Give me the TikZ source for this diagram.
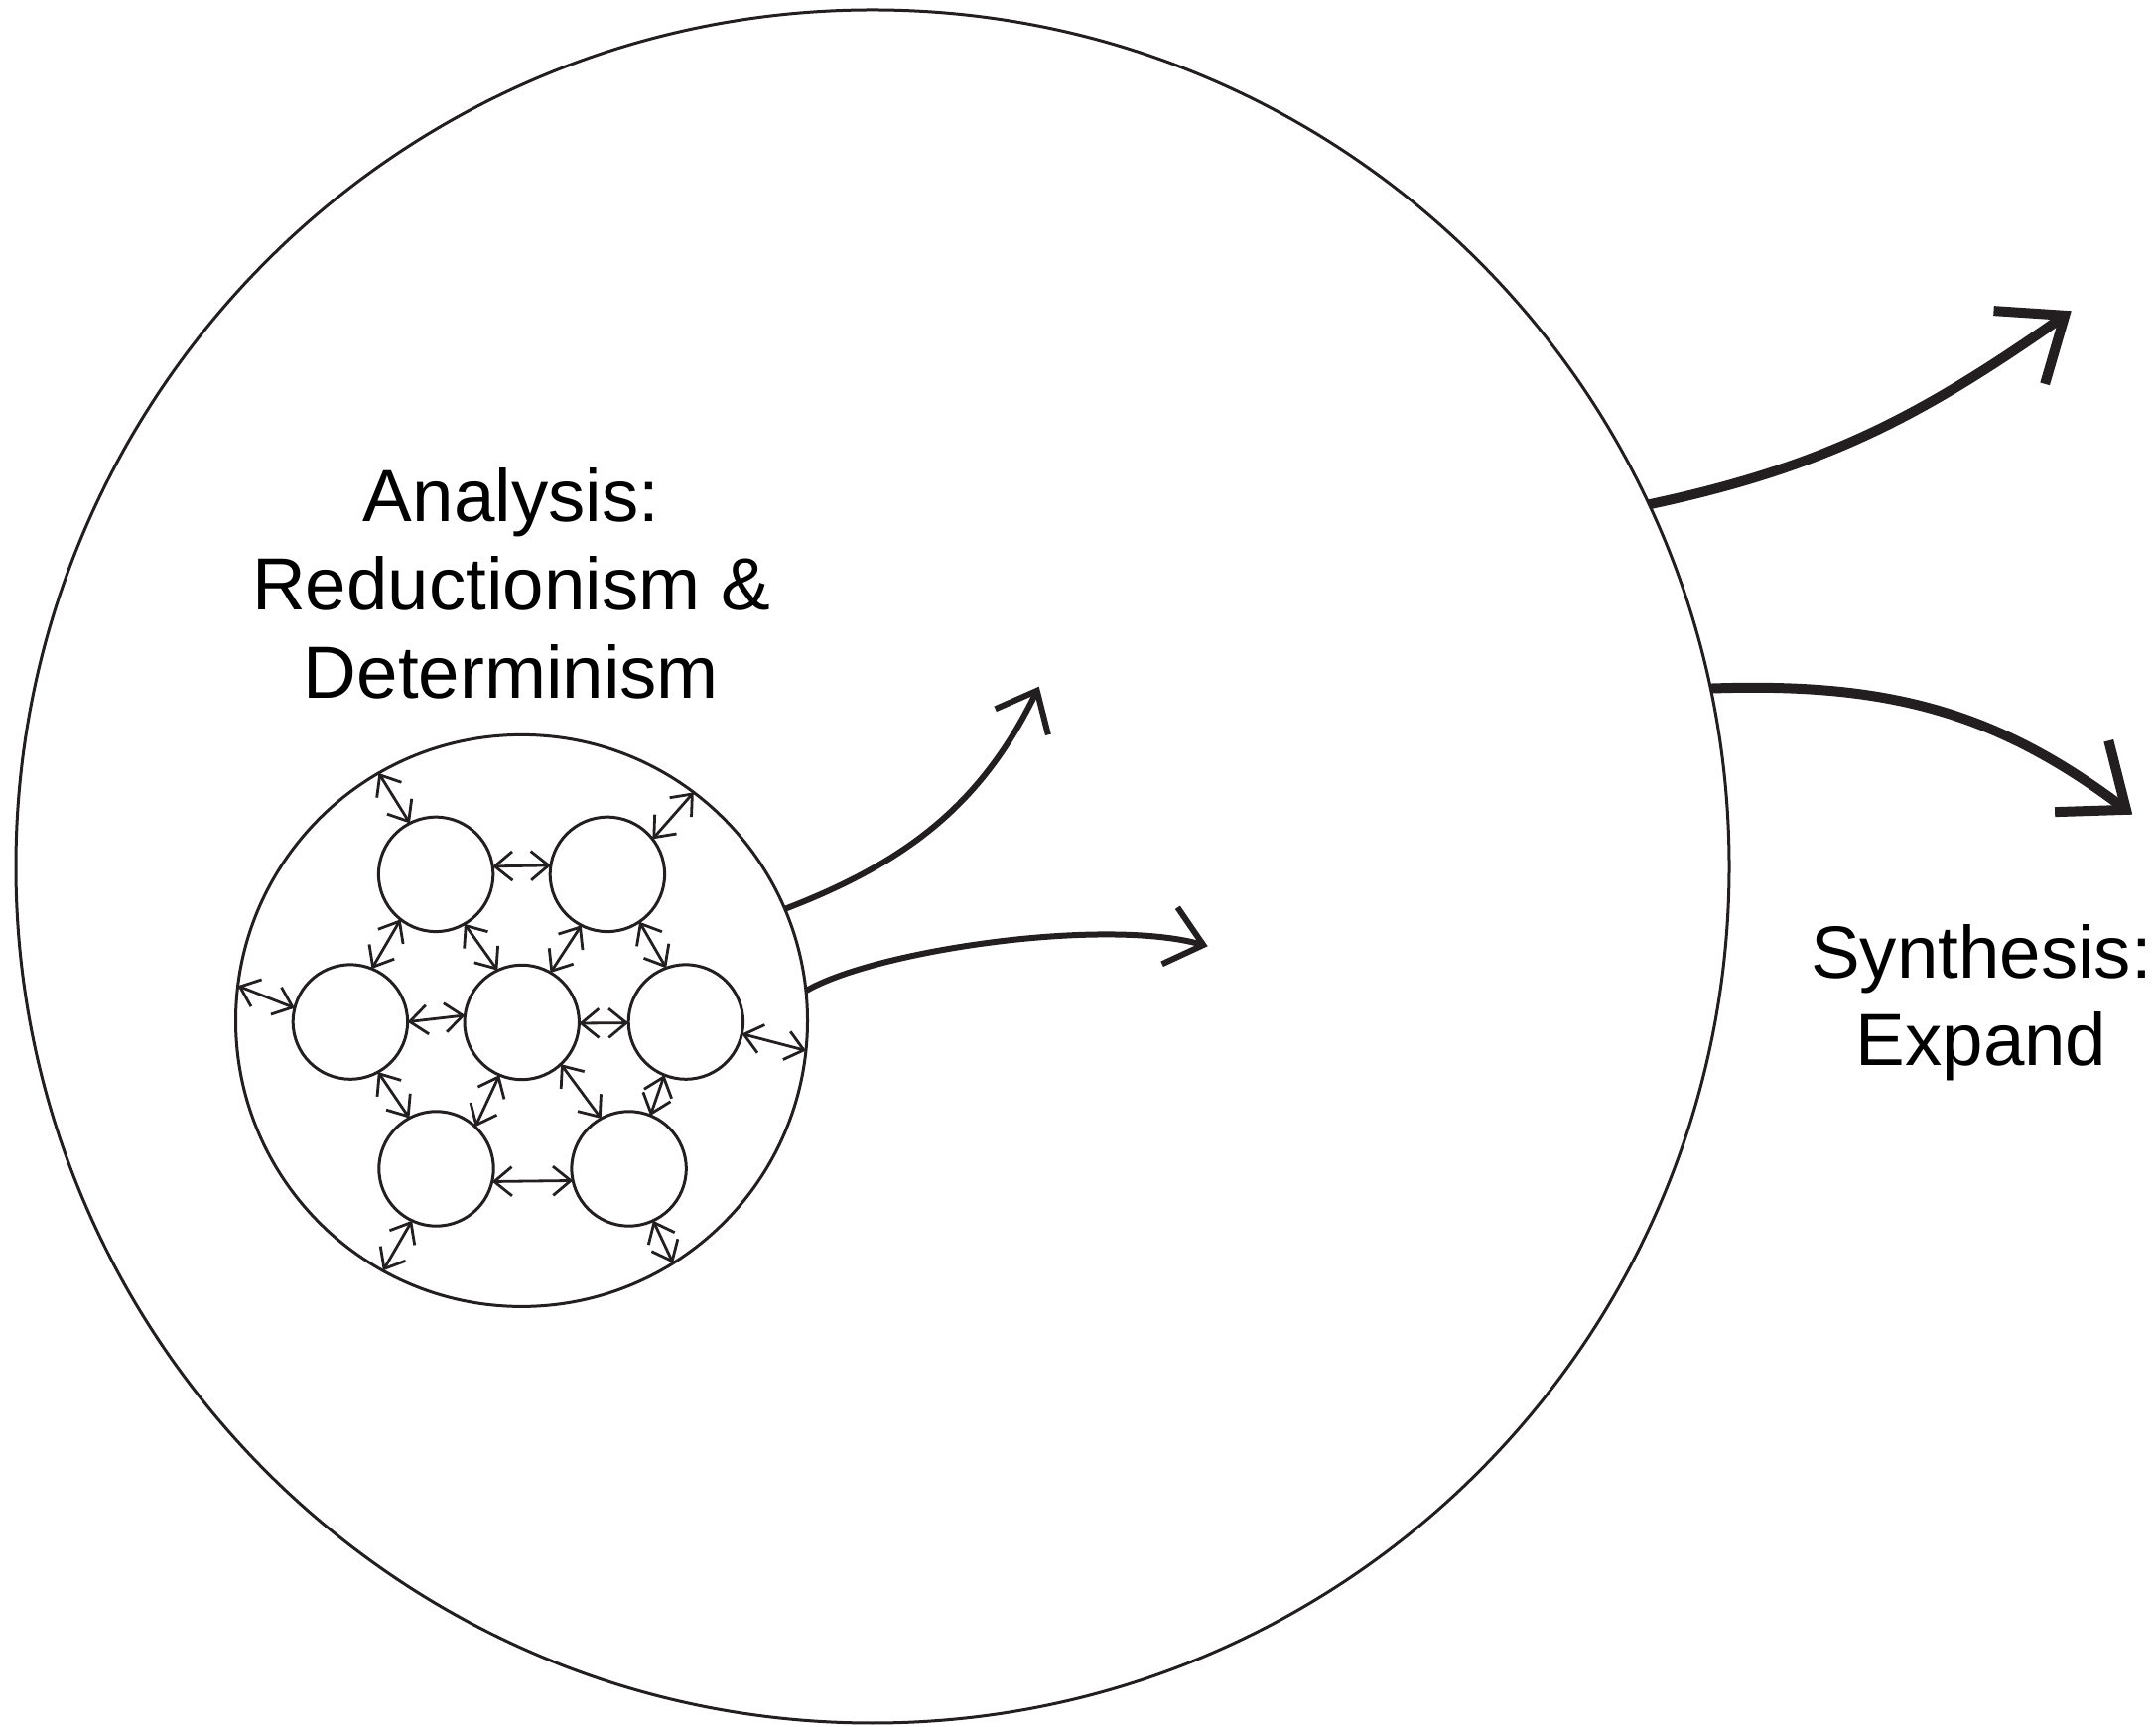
\documentclass[tikz,border=0pt]{standalone}
\usepackage{fontspec}
\setmainfont{Liberation Sans}
\usetikzlibrary{arrows.meta}
\definecolor{ink}{RGB}{35,31,32}
\begin{document}
\begin{tikzpicture}[x=0.5pt,y=0.5pt,
  circ/.style={circle, draw=ink, line width=1.5pt, inner sep=0pt, outer sep=0pt},
  small/.style={circ, minimum size=57.7pt},
  dbl/.style={draw=ink, line width=1.4pt,
    {Straight Barb[length=8.9pt,width=14.6pt,sharp]}-{Straight Barb[length=8.9pt,width=14.6pt,sharp]}},
  midarrow/.style={draw=ink, line width=3pt, -{Straight Barb[length=17.5pt,width=29.6pt,sharp]}},
  bigarrow/.style={draw=ink, line width=5pt, -{Straight Barb[length=28pt,width=45pt,sharp]}},
  lbl/.style={font=\fontsize{37.25pt}{44.3pt}\selectfont, text=black, inner sep=0pt, anchor=base}]
\useasboundingbox (0,0) rectangle (2172,1739);

% circles
\node[circ, minimum size=863pt] (outer) at (879,866) {};
\node[circ, minimum size=288pt] (inner) at (525.5,710.6) {};
\node[small] (TL) at (439.1,858.1) {};
\node[small] (TR) at (611.9,858.1) {};
\node[small] (ML) at (352.9,709.4) {};
\node[small] (CC) at (525.7,709.0) {};
\node[small] (MR) at (690.9,709.4) {};
\node[small] (BL) at (439.5,561.5) {};
\node[small] (BR) at (633.6,561.5) {};

% double arrows
\draw[dbl] (inner.120.4) -- (TL.117.6);
\draw[dbl] (TL.8.5) -- (TR.171.3);
\draw[dbl] (TR.38) -- (inner.53.3);
\draw[dbl] (TL.232.9) -- (ML.68.6);
\draw[dbl] (TL.300.7) -- (CC.115.2);
\draw[dbl] (TR.243.6) -- (CC.60.4);
\draw[dbl] (TR.304.3) -- (MR.110.3);
\draw[dbl] (inner.173.6) -- (ML.166.6);
\draw[dbl] (ML.-0.8) -- (CC.173.9);
\draw[dbl] (CC.-1) -- (MR.181.5);
\draw[dbl] (MR.348.8) -- (inner.354.9);
\draw[dbl] (ML.299.3) -- (BL.118.8);
\draw[dbl] (CC.247.9) -- (BL.47);
\draw[dbl] (CC.313) -- (BR.119.2);
\draw[dbl] (MR.248.5) -- (BR.68.5);
\draw[dbl] (BL.347.4) -- (BR.192.7);
\draw[dbl] (BL.245.7) -- (inner.241.5);
\draw[dbl] (BR.295.8) -- (inner.302.5);

% arrow end points
\coordinate (tipA) at (1046.7,1047.3);
\coordinate (tipB) at (1216.7,785.7);
\coordinate (tipC) at (2086.7,1425.7);
\coordinate (tipD) at (2148.3,918.3);

% curved arrows
\draw[midarrow] (inner.23.5) .. controls +(123.2,47.3) and +(-57.9,-118.6) .. (tipA);
\draw[midarrow] (inner.6.8) .. controls +(68.5,40.3) and +(-106.7,29.3) .. (tipB);
\draw[bigarrow] (outer.25.4) .. controls +(179,38) and +(-149.9,-105) .. (tipC);
\draw[bigarrow] (outer.12.4) .. controls +(175,6) and +(-139.8,105.3) .. (tipD);

% labels
\node[lbl] (an1) at (515,1213) {Analysis:};
\node[lbl] (an2) at (515,1124) {Reductionism \&};
\node[lbl] (an3) at (515,1035.7) {Determinism};
\node[lbl] (sy1) at (1996,753) {Synthesis:};
\node[lbl] (sy2) at (1996,665.7) {Expand};
\end{tikzpicture}
\end{document}
